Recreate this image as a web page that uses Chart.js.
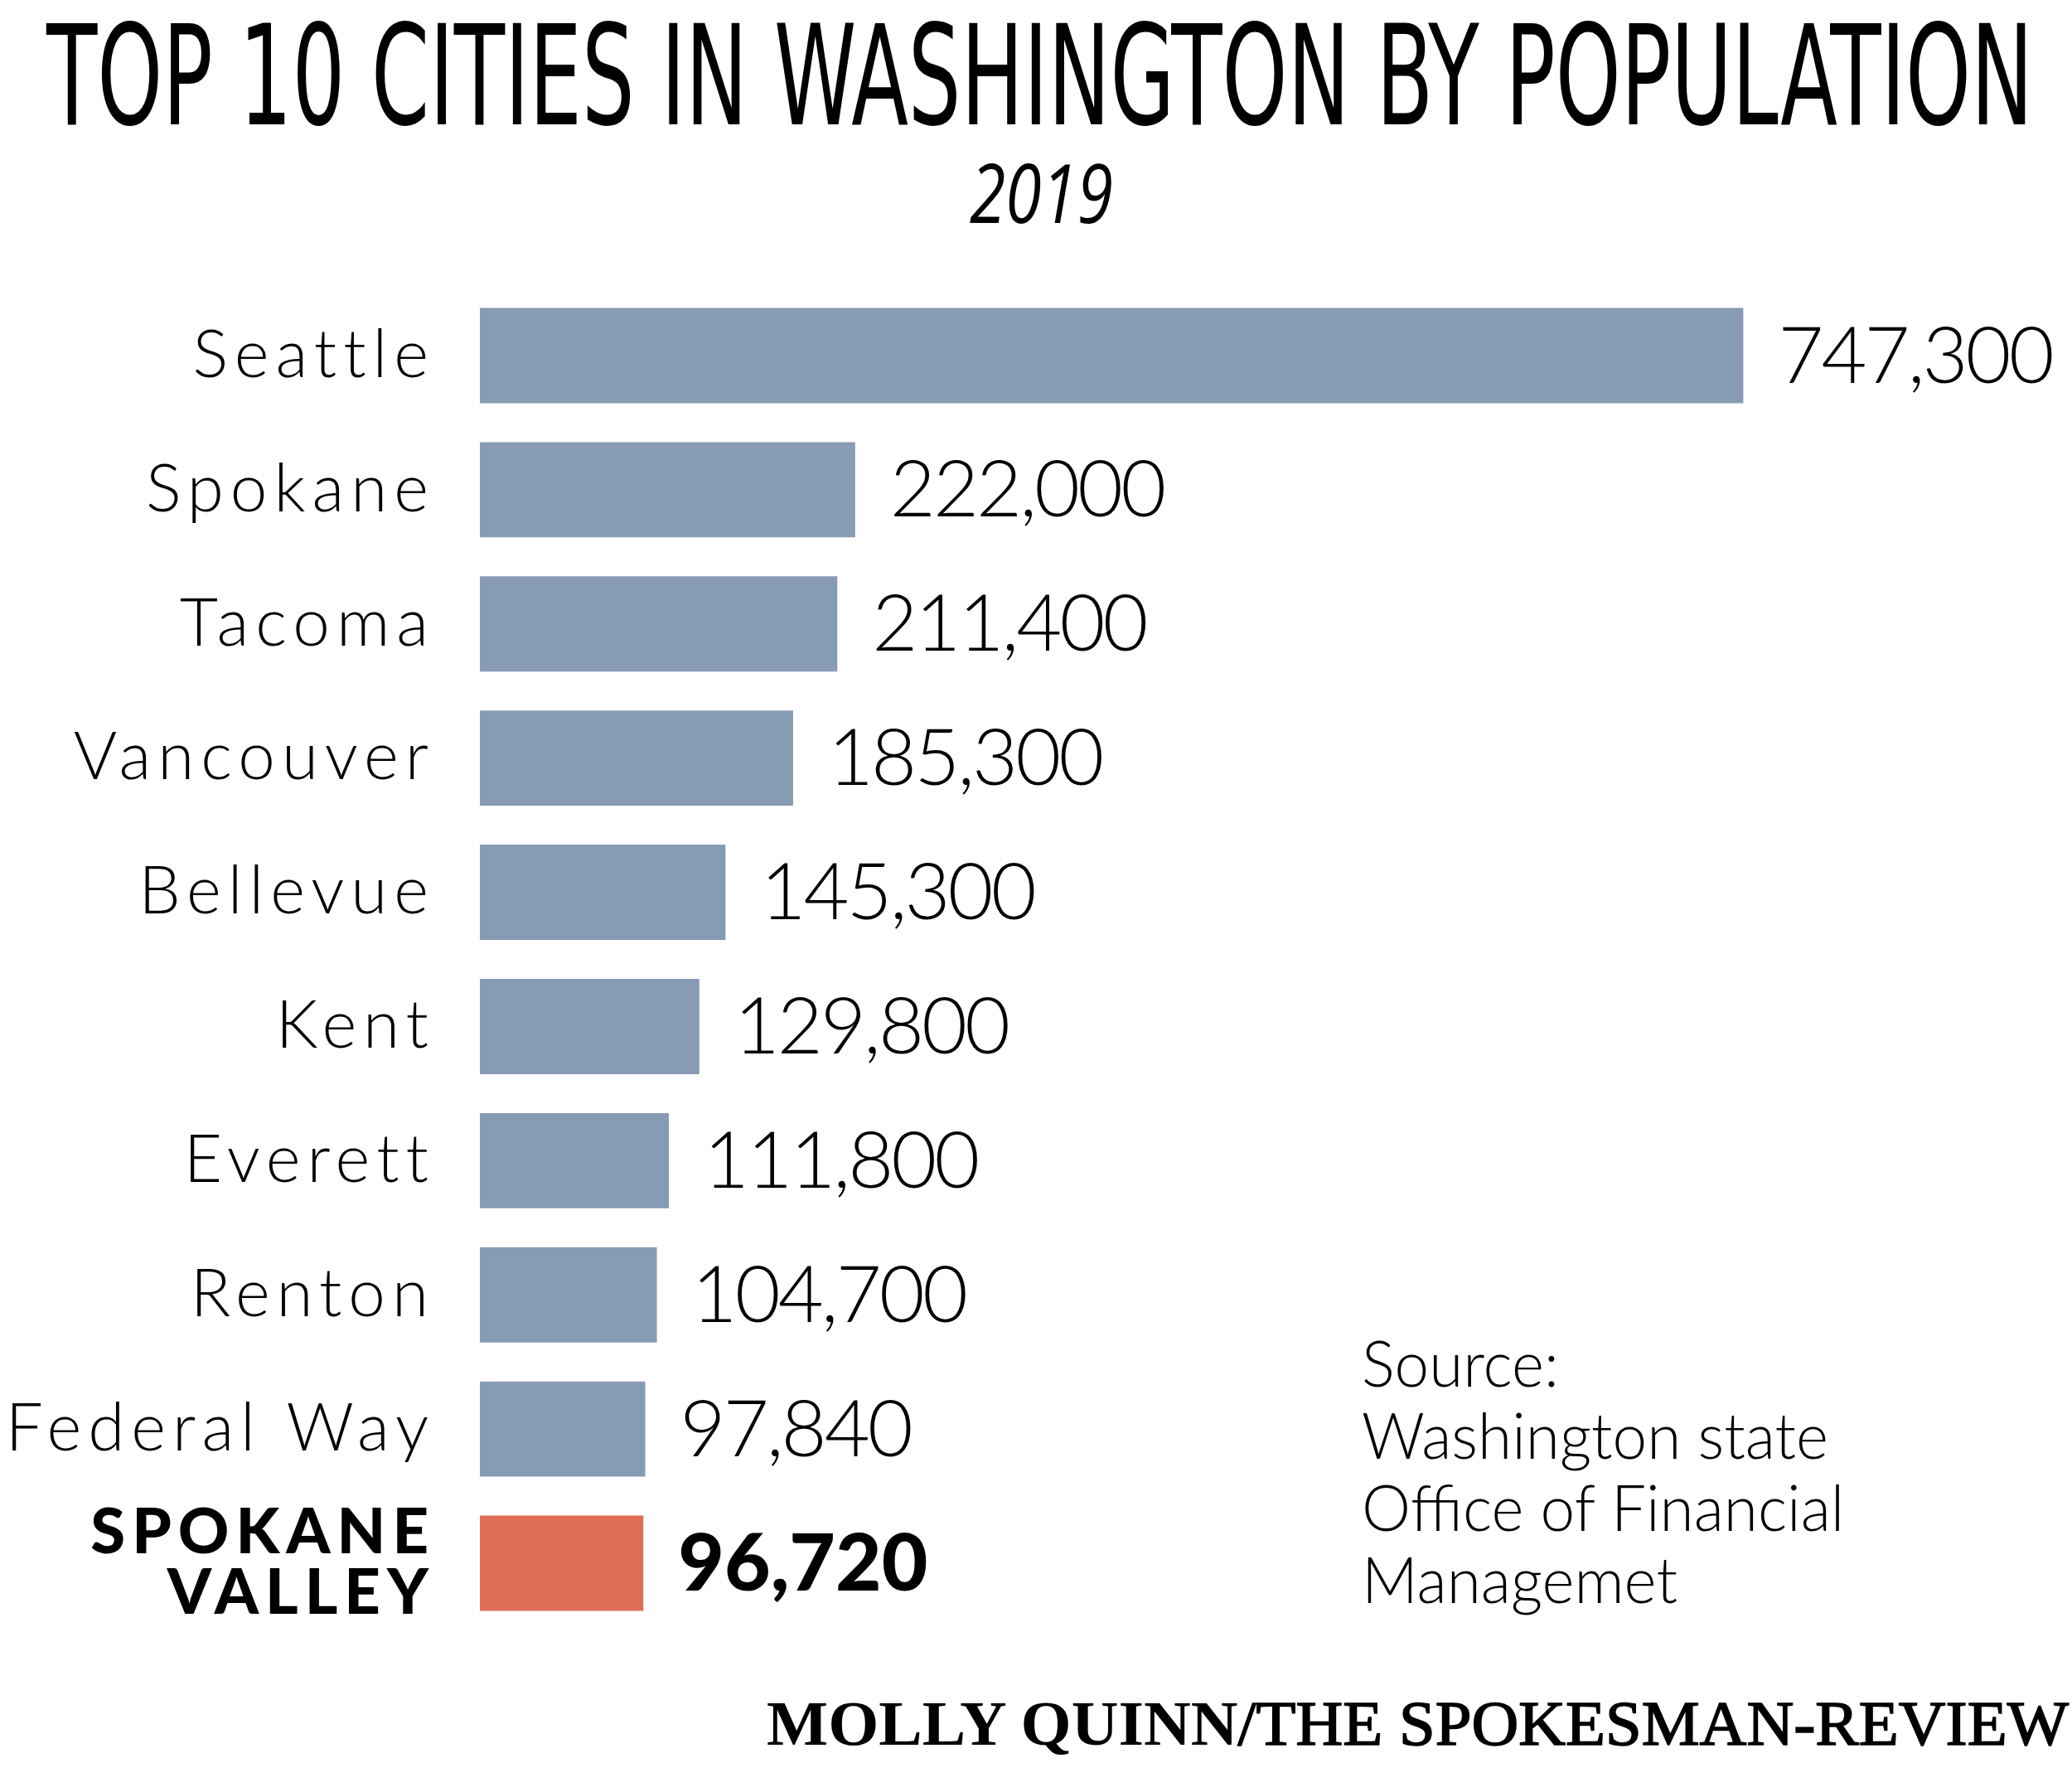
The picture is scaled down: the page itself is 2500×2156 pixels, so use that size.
<!DOCTYPE html>
<html>
<head>
<meta charset="utf-8">
<script src="https://cdn.jsdelivr.net/npm/chart.js@4"></script>
<style>
  html, body { margin: 0; padding: 0; background: #fff; }
  body { width: 2500px; height: 2156px; position: relative; overflow: hidden; }
  #wrap { position: absolute; left: 0; top: 0; width: 2500px; height: 2156px; }
  .txt { position: absolute; white-space: nowrap; color: #000; transform-origin: 0 0; line-height: 1; }
  #title { left: 56px; top: 8px; font-family: "Liberation Sans Narrow", "DejaVu Sans Condensed", sans-serif; font-size: 168px; }
  #sub { top: 182px; font-family: "Open Sans", sans-serif; font-style: italic; font-size: 98px; }
  #source { left: 1643px; top: 1600px; font-family: Lato, sans-serif; font-weight: 300; font-size: 76px; line-height: 87px; }
  #credit { left: 925px; top: 2041px; font-family: "Liberation Serif", serif; font-size: 76px; }
  #credit b { font-weight: 700; }
  #credit span { font-weight: 400; -webkit-text-stroke: 1.6px #000; }
</style>
</head>
<body>
<div id="wrap"><canvas id="barChart"></canvas></div>
<div class="txt" id="title">TOP 10 CITIES IN WASHINGTON BY POPULATION</div>
<div class="txt" id="sub">2019</div>
<div class="txt" id="source">Source:<br><span id="srcLine">Washington state</span><br>Office of Financial<br>Managemet</div>
<div class="txt" id="credit"><b>MOLLY QUINN</b><span>/THE SPOKESMAN-REVIEW</span></div>
<script>
// data
var cities = ['Seattle', 'Spokane', 'Tacoma', 'Vancouver', 'Bellevue', 'Kent', 'Everett', 'Renton', 'Federal Way', ['SPOKANE', 'VALLEY']]
var population = [747300, 222000, 211400, 185300, 145300, 129800, 111800, 104700, 97840, 96720]
var barColors = ['#879bb5', '#879bb5', '#879bb5', '#879bb5', '#879bb5', '#879bb5', '#879bb5', '#879bb5', '#879bb5', '#df6c55']
var highlight = 9

// squeeze a text block horizontally to a given width
function fitWidth(el, target, measureEl){
  var w = (measureEl || el).getBoundingClientRect().width
  el.style.transform = 'scaleX(' + (target / w) + ')'
  return target / w
}

fitWidth(document.getElementById('title'), 2397)
var sub = document.getElementById('sub')
var subScale = 173 / sub.getBoundingClientRect().width
sub.style.transform = 'scaleX(' + subScale + ')'
sub.style.left = (1256 - 173 / 2) + 'px'
fitWidth(document.getElementById('source'), 563, document.getElementById('srcLine'))
fitWidth(document.getElementById('credit'), 1571)

// letter spacing for the city names only
var spacing = {
  id: 'spacing',
  beforeDraw: function(chart){ chart.ctx.letterSpacing = '8px' },
  beforeDatasetsDraw: function(chart){ chart.ctx.letterSpacing = '0px' }
}

var valueLabels = {
  id: 'valueLabels',
  afterDatasetsDraw: function(chart){
    var ctx = chart.ctx
    var meta = chart.getDatasetMeta(0)
    ctx.save()
    ctx.textAlign = 'left'
    ctx.textBaseline = 'middle'
    ctx.fillStyle = '#000'
    meta.data.forEach(function(bar, i){
      if (i === highlight) {
        ctx.font = '900 96px Lato'
        ctx.letterSpacing = '0px'
      } else {
        ctx.font = '300 95px Lato'
        ctx.letterSpacing = '-3px'
      }
      ctx.fillText(population[i].toLocaleString('en-US'), bar.x + 42, bar.y + 2)
    })
    ctx.restore()
  }
}

var chart = new Chart(document.getElementById('barChart'), {
  type: 'bar',
  data: {
    labels: cities,
    datasets: [{
      data: population,
      backgroundColor: barColors,
      borderWidth: 0,
      categoryPercentage: 1,
      barPercentage: 0.71
    }]
  },
  options: {
    indexAxis: 'y',
    responsive: true,
    maintainAspectRatio: false,
    animation: false,
    layout: { padding: { top: 348, bottom: 189, left: 0, right: 283 } },
    plugins: { legend: { display: false }, tooltip: { enabled: false } },
    scales: {
      x: { display: false, min: 0, max: 803000 },
      y: {
        grid: { display: false },
        border: { display: false },
        afterFit: function(scale){ scale.width = 579 },
        ticks: {
          padding: 46,
          color: '#000',
          font: function(c){
            if (c.index === highlight) return { family: 'Lato', size: 76, weight: '900', lineHeight: 0.95 }
            return { family: 'Lato', size: 80, weight: '300' }
          }
        }
      }
    }
  },
  plugins: [spacing, valueLabels]
})
</script>
</body>
</html>
